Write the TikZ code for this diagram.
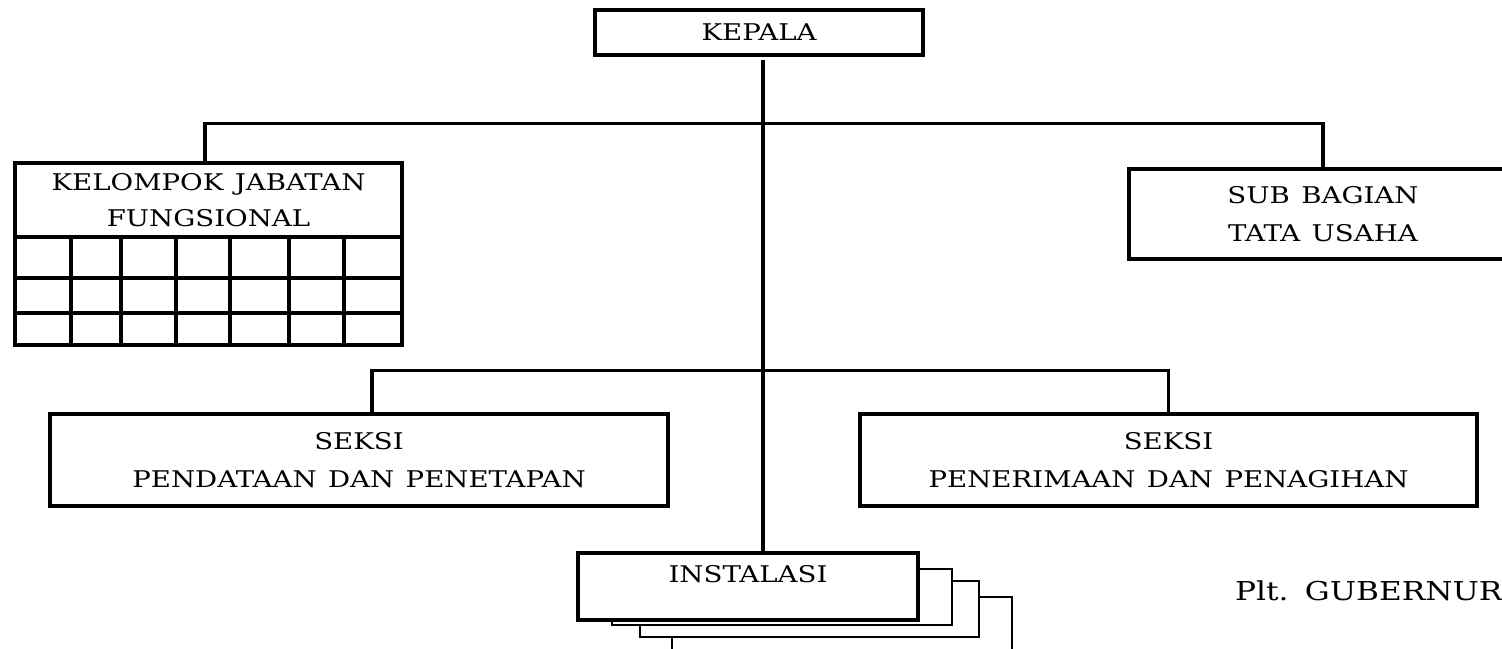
\documentclass[tikz,border=0pt]{standalone}
\usepackage{fontspec}
\setmainfont{DejaVu Serif}[FakeStretch=1.2, WordSpace=1.3]
\begin{document}
\begin{tikzpicture}[x=1pt,y=-1pt,
  box/.style={draw, line width=3.4pt, fill=white, align=center, inner sep=0pt,
    font=\fontsize{23}{38}\selectfont},
  conn/.style={line width=3.4pt},
  thin/.style={draw, line width=1.5pt, fill=white},
  lbl/.style={font=\fontsize{23}{38}\selectfont, inner sep=0pt}]
\clip (0,0) rectangle (1502,648);
\fill[white] (0,0) rectangle (1502,648);

% boxes
\node[box, minimum width=328pt, minimum height=45pt] (kepala) at (759,32.5) {KEPALA};
\node[box, minimum width=387pt, minimum height=74pt, font=\fontsize{23}{36}\selectfont] (kel) at (208.5,200) {KELOMPOK JABATAN\\FUNGSIONAL};
\node[box, minimum width=388pt, minimum height=90pt] (sub) at (1323,214) {SUB BAGIAN\\TATA USAHA};
\node[box, minimum width=618pt, minimum height=92pt] (s1) at (359,460) {SEKSI\\PENDATAAN DAN PENETAPAN};
\node[box, minimum width=617pt, minimum height=92pt] (s2) at (1168.5,460) {SEKSI\\PENERIMAAN DAN PENAGIHAN};

% grid under kelompok
\foreach \x in {15,71,121,176,230,289,344,402}
  \draw[conn] (\x,237) -- (\x,346.7);
\foreach \y in {278,313,345}
  \draw[conn] (13.3,\y) -- (403.7,\y);

% stacked instalasi copies
\draw[thin] (672,597) rectangle (1012,700);
\draw[thin] (640,581) rectangle (979,637);
\draw[thin] (612,569) rectangle (952,625);
\node[box, minimum width=340pt, minimum height=67pt] (inst) at (748,586.5) {};
\node[lbl] (insttext) at (748,574) {INSTALASI};

% connectors
\coordinate (t1) at (763,60);
\draw[conn] (t1) -- (t1 |- inst.north);
\draw[conn] ([xshift=-3.5pt]kel.north) -- ++(0,-38) -| (sub.north);
\draw[conn] ([xshift=13pt]s1.north) -- ++(0,-42) -| (s2.north);

% signature text
\node[font=\fontsize{26}{30}\selectfont, anchor=base west, inner sep=0pt] (plt) at (1235,600) {Plt. GUBERNUR};
\end{tikzpicture}
\end{document}
